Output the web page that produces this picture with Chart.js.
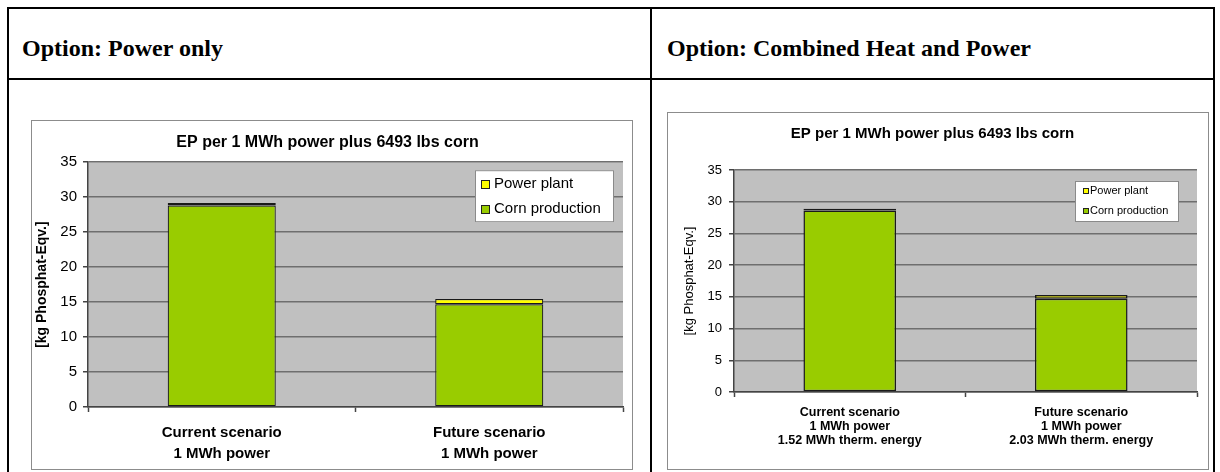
<!DOCTYPE html>
<html>
<head>
<meta charset="utf-8">
<script src="https://cdn.jsdelivr.net/npm/chart.js@4/dist/chart.umd.min.js"></script>
<style>
  html, body { margin: 0; padding: 0; background: #fff; }
  #page { position: relative; width: 1220px; height: 472px; overflow: hidden; background: #fff; }
  .rule { position: absolute; background: #000; }
  .head { position: absolute; font-family: "Liberation Serif", "Times New Roman", serif; font-weight: bold;
          font-size: 24px; line-height: 24px; color: #000; white-space: nowrap; }
  .frame { position: absolute; border: 1px solid #8c8c8c; background: #fff; }
  .frame canvas { display: block; }
</style>
</head>
<body>
<div id="page">
  <!-- table grid -->
  <div class="rule" style="left:7px; top:7px; width:1208px; height:2px;"></div>
  <div class="rule" style="left:7px; top:78px; width:1208px; height:2px;"></div>
  <div class="rule" style="left:7px; top:7px; width:2px; height:465px;"></div>
  <div class="rule" style="left:650px; top:7px; width:2px; height:465px;"></div>
  <div class="rule" style="left:1213px; top:7px; width:2px; height:465px;"></div>

  <div class="head" style="left:22px; top:36px;">Option: Power only</div>
  <div class="head" style="left:667px; top:36px;">Option: Combined Heat and Power</div>

  <div class="frame" style="left:31px; top:120px;"><canvas id="chartPower" width="600" height="348"></canvas></div>
  <div class="frame" style="left:667px; top:112px;"><canvas id="chartCHP" width="540" height="356"></canvas></div>
</div>

<script>
// Chart text
const chartTitle = 'EP per 1 MWh power plus 6493 lbs corn';
const yAxisTitle = '[kg Phosphat-Eqv.]';
const seriesNames = ['Corn production', 'Power plant'];

// Categories
const scenariosPower = [
  ['Current scenario', '1 MWh power'],
  ['Future scenario', '1 MWh power']
];
const scenariosCHP = [
  ['Current scenario', '1 MWh power', '1.52 MWh therm. energy'],
  ['Future scenario', '1 MWh power', '2.03 MWh therm. energy']
];

// Values, kg phosphate equivalent
const cornPower = [28.8, 14.7];
const plantPower = [0.35, 0.75];
const cornCHP = [28.6, 14.7];
const plantCHP = [0.3, 0.6];

// Value axis
const yMin = 0;
const yMax = 35;
const yStep = 5;

const seriesColors = ['#99cc00', '#ffff00'];

Chart.defaults.font.family = '"Liberation Sans", Arial, sans-serif';
Chart.defaults.color = '#000';

// Grey plot area behind grid and bars
const plotBackground = {
  id: 'plotBackground',
  beforeDraw(chart) {
    const { ctx, chartArea: a } = chart;
    ctx.save();
    ctx.fillStyle = '#c0c0c0';
    ctx.fillRect(a.left, a.top, a.right - a.left, a.bottom - a.top);
    ctx.restore();
  }
};

// Boxed legend placed inside the plot, top right
const insideLegend = {
  id: 'insideLegend',
  afterDraw(chart, args, o) {
    const { ctx, chartArea: a } = chart;
    const x = a.right - o.right - o.width;
    const y = a.top + o.top;
    ctx.save();
    ctx.fillStyle = '#ffffff';
    ctx.fillRect(x, y, o.width, o.height);
    ctx.strokeStyle = '#8a8a8a';
    ctx.lineWidth = 1;
    ctx.strokeRect(x + 0.5, y + 0.5, o.width - 1, o.height - 1);
    const items = chart.data.datasets.map(d => ({ label: d.label, color: d.backgroundColor })).reverse();
    ctx.font = o.fontSize + 'px "Liberation Sans", Arial, sans-serif';
    ctx.textBaseline = 'middle';
    ctx.textAlign = 'left';
    items.forEach((it, i) => {
      const cy = y + o.firstRow + i * o.rowGap;
      const s = o.marker;
      ctx.fillStyle = it.color;
      ctx.fillRect(x + o.markerX, Math.round(cy - s / 2), s, s);
      ctx.strokeStyle = '#222';
      ctx.strokeRect(x + o.markerX + 0.5, Math.round(cy - s / 2) + 0.5, s - 1, s - 1);
      ctx.fillStyle = '#000';
      ctx.fillText(it.label, x + o.textX, cy);
    });
    ctx.restore();
  }
};

function buildChart(canvasId, labels, corn, plant, cfg) {
  return new Chart(document.getElementById(canvasId), {
    type: 'bar',
    data: {
      labels: labels,
      datasets: [
        { label: seriesNames[0], data: corn, backgroundColor: seriesColors[0],
          borderColor: '#1a1a1a', borderWidth: cfg.barBorder, borderSkipped: false },
        { label: seriesNames[1], data: plant, backgroundColor: seriesColors[1],
          borderColor: '#1a1a1a', borderWidth: cfg.barBorder, borderSkipped: false }
      ]
    },
    options: {
      responsive: false,
      animation: false,
      devicePixelRatio: 1,
      layout: { padding: { left: 0, right: cfg.padRight, top: 0, bottom: 0 } },
      datasets: { bar: { categoryPercentage: 1, barPercentage: cfg.barPct } },
      plugins: {
        legend: { display: false },
        tooltip: { enabled: false },
        title: {
          display: true,
          text: chartTitle,
          color: '#000',
          font: { size: cfg.titleSize, weight: 'bold' },
          padding: cfg.titlePad
        },
        insideLegend: cfg.legend
      },
      scales: {
        x: {
          stacked: true,
          offset: true,
          afterFit: s => { s.height = cfg.xHeight; },
          grid: { offset: true, drawOnChartArea: false, drawTicks: true, tickLength: 5,
                  tickColor: '#444', tickWidth: 1.5 },
          border: { color: '#444', width: 1.5 },
          ticks: { color: '#000', maxRotation: 0, autoSkip: false, padding: cfg.xPad,
                   font: { size: cfg.catSize, weight: 'bold', lineHeight: cfg.catLine } }
        },
        y: {
          stacked: true,
          min: yMin,
          max: yMax,
          afterFit: s => { s.width = cfg.yWidth; },
          grid: { color: '#6e6e6e', lineWidth: 1.5, drawTicks: true, tickLength: 5,
                  tickColor: '#444', tickWidth: 1.5 },
          border: { color: '#444', width: 1.5 },
          ticks: { stepSize: yStep, color: '#000', padding: cfg.yPad,
                   font: { size: cfg.tickSize } },
          title: {
            display: true,
            text: yAxisTitle,
            color: '#000',
            font: { size: cfg.yTitleSize, weight: cfg.yTitleWeight },
            padding: { top: cfg.yTitlePad, bottom: 0 }
          }
        }
      }
    },
    plugins: [plotBackground, insideLegend]
  });
}

buildChart('chartPower', scenariosPower, cornPower, plantPower, {
  padRight: 9, barPct: 0.404, barBorder: 1.2,
  titleSize: 16, titlePad: { top: 12, bottom: 10 },
  xHeight: 62, xPad: 10, catSize: 15, catLine: 1.4,
  yWidth: 56, yPad: 6, tickSize: 15, yTitleSize: 14, yTitleWeight: 'bold', yTitlePad: 2,
  legend: { right: 9, top: 8, width: 139, height: 52, firstRow: 14, rowGap: 25,
            marker: 9, markerX: 6, textX: 19, fontSize: 15 }
});

buildChart('chartCHP', scenariosCHP, cornCHP, plantCHP, {
  padRight: 11, barPct: 0.40, barBorder: 1.5,
  titleSize: 15, titlePad: { top: 12, bottom: 27 },
  xHeight: 77, xPad: 8, catSize: 12.5, catLine: 1.15,
  yWidth: 66, yPad: 7, tickSize: 13, yTitleSize: 13, yTitleWeight: 'normal', yTitlePad: 14,
  legend: { right: 18, top: 11, width: 104, height: 41, firstRow: 10, rowGap: 20,
            marker: 6, markerX: 8, textX: 15, fontSize: 11 }
});
</script>
</body>
</html>
